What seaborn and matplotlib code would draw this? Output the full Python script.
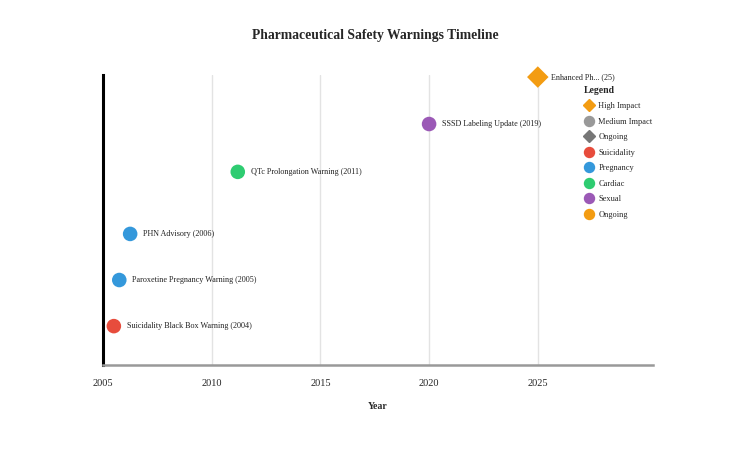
import matplotlib
matplotlib.use("Agg")
import matplotlib.pyplot as plt
from matplotlib.lines import Line2D
import pandas as pd
import seaborn as sns

# timeline events
events = ["Suicidality Black Box Warning (2004)",
          "Paroxetine Pregnancy Warning (2005)",
          "PHN Advisory (2006)",
          "QTc Prolongation Warning (2011)",
          "SSSD Labeling Update (2019)",
          "Enhanced Ph... (25)"]
years = [2005.5, 2005.75, 2006.25, 2011.2, 2020.0, 2025.0]
levels = [13.4, 29.3, 45.2, 66.6, 83.1, 99.3]
categories = ["Suicidality", "Pregnancy", "Pregnancy", "Cardiac", "Sexual", "Ongoing"]
shapes = ["circle", "circle", "circle", "circle", "circle", "diamond"]

palette = {"Suicidality": "#e74c3c", "Pregnancy": "#3498db", "Cardiac": "#2ecc71",
           "Sexual": "#9b59b6", "Ongoing": "#f39c12"}
xticks = [2005, 2010, 2015, 2020, 2025]

df = pd.DataFrame({"event": events, "year": years, "level": levels,
                   "category": categories, "shape": shapes})

sns.set_style("white")
plt.rcParams["font.family"] = ["Liberation Serif", "DejaVu Serif"]

fig = plt.figure(figsize=(7.5, 4.58), dpi=100)
ax = fig.add_axes([0.1373, 0.2031, 0.7334, 0.6331])

sns.scatterplot(data=df, x="year", y="level", hue="category", style="shape",
                markers={"circle": "o", "diamond": "D"}, palette=palette,
                size="shape", sizes={"circle": 110, "diamond": 120},
                linewidth=0, legend=False, ax=ax, clip_on=False, zorder=3)

for _, r in df.iterrows():
    ax.annotate(r["event"], (r["year"], r["level"]), xytext=(9.5, 0),
                textcoords="offset points", va="center", ha="left",
                fontsize=5.9, color="#222222")

ax.set_xlim(2005, 2030.3)
ax.set_ylim(0, 100)
ax.set_xticks(xticks)
ax.set_xticklabels([str(t) for t in xticks], fontsize=7.5)
ax.set_yticks([])
ax.tick_params(axis="x", length=0, pad=10)
ax.xaxis.grid(True, color="#e3e3e3", linewidth=1)
ax.set_axisbelow(True)
ax.set_xlabel("Year", fontsize=7, fontweight="bold", labelpad=10)
ax.set_ylabel("")

for s in ["top", "right"]:
    ax.spines[s].set_visible(False)
ax.spines["left"].set_color("black")
ax.spines["left"].set_linewidth(2.2)
ax.spines["bottom"].set_color("#999999")
ax.spines["bottom"].set_linewidth(1.8)

fig.suptitle("Pharmaceutical Safety Warnings Timeline", x=0.5, y=0.937,
             fontsize=9.8, fontweight="bold")

handles = [
    Line2D([], [], marker="D", color="#f39c12", ls="", markersize=6.5, label="High Impact"),
    Line2D([], [], marker="o", color="#999999", ls="", markersize=7.2, label="Medium Impact"),
    Line2D([], [], marker="D", color="#777777", ls="", markersize=6.5, label="Ongoing"),
]
for name, col in palette.items():
    handles.append(Line2D([], [], marker="o", color=col, ls="", markersize=7.2, label=name))

leg = ax.legend(handles=handles, title="Legend", loc="upper left",
                bbox_to_anchor=(0.869, 0.975), frameon=False, fontsize=6,
                title_fontsize=7, handletextpad=0.5, labelspacing=0.9,
                handlelength=1.2, borderaxespad=0, alignment="left")
leg.get_title().set_fontweight("bold")

fig.savefig("out.png", dpi=100)
